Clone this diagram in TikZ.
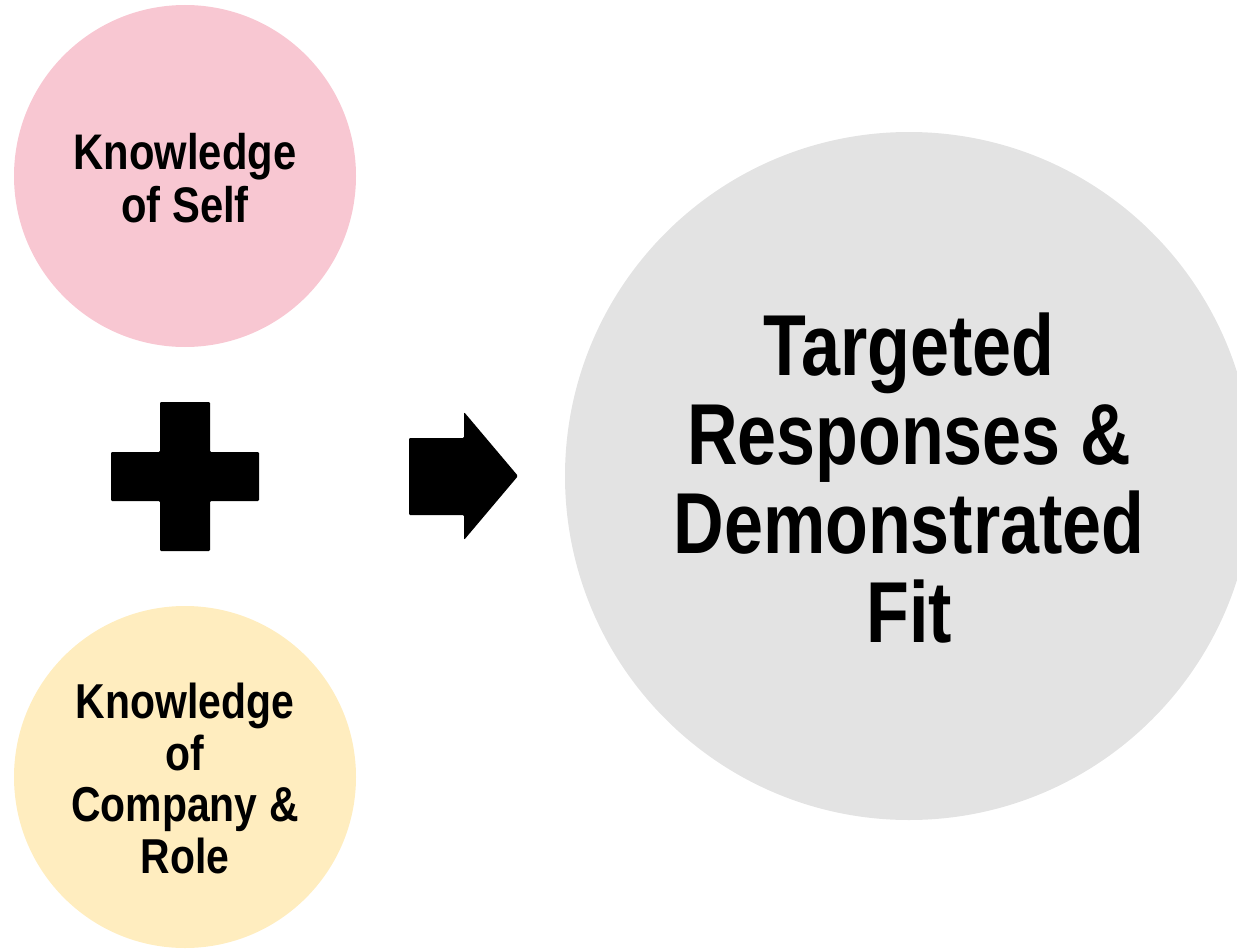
\documentclass[tikz,border=0pt]{standalone}
\usepackage{fontspec}
\newfontfamily\nb[FakeStretch=0.81]{Liberation Sans}
\newfontfamily\nbs[FakeStretch=0.835]{Liberation Sans}
\definecolor{pinkc}{RGB}{248,199,210}
\definecolor{yellowc}{RGB}{255,237,191}
\definecolor{grayc}{RGB}{227,227,227}
\begin{document}
\begin{tikzpicture}[x=1pt,y=-1pt,
  blob/.style={circle,inner sep=0pt,draw=none},
  small/.style={inner sep=0pt,align=center,anchor=north,font={\nbs\bfseries\fontsize{50}{53}\selectfont}},
  smallb/.style={inner sep=0pt,align=center,anchor=north,font={\nbs\bfseries\fontsize{49}{51.5}\selectfont}},
  big/.style={inner sep=0pt,align=center,anchor=north,font={\nb\bfseries\fontsize{86.5}{89}\selectfont}},
  sym/.style={fill=black,draw=none,rounded corners=1.2pt}]
\useasboundingbox (0,0) rectangle (1237,950);
\clip (0,0) rectangle (1237,950);
\node[blob,fill=pinkc,minimum size=342pt] (self) at (185,176) {};
\node[blob,fill=yellowc,minimum size=342pt] (comp) at (185,777) {};
\node[blob,fill=grayc,minimum size=688pt] (fit) at (909,476) {};
\node[small] (selft) at (185,133) {Knowledge\\of Self};
\node[smallb] (compt) at (185,683) {Knowledge\\of\\Company \&\\Role};
\node[big] (fitt) at (909,313) {Targeted\\Responses \&\\Demonstrated\\Fit};
\fill[sym] (160,402) -- (210,402) -- (210,452) -- (259,452) -- (259,501) -- (210,501) -- (210,551) -- (160,551) -- (160,501) -- (111,501) -- (111,452) -- (160,452) -- cycle;
\fill[sym] (409,438) -- (464,438) -- (464,412) -- (518,476) -- (464,540) -- (464,515) -- (409,515) -- cycle;
\end{tikzpicture}
\end{document}
